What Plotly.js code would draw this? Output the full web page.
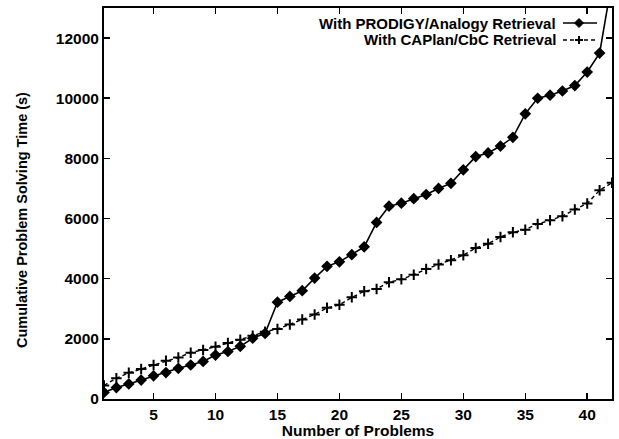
<!DOCTYPE html>
<html>
<head>
<meta charset="utf-8">
<script src="https://cdn.plot.ly/plotly-3.0.1.min.js"></script>
<style>html,body{margin:0;padding:0;background:#fff;}#chart{width:619px;height:439px;}</style>
</head>
<body>
<div id="chart"></div>
<script>
const problems = [1,2,3,4,5,6,7,8,9,10,11,12,13,14,15,16,17,18,19,20,21,22,23,24,25,26,27,28,29,30,31,32,33,34,35,36,37,38,39,40,41,42];
const prodigyTime = [220,380,500,630,770,880,1020,1130,1250,1460,1580,1750,2020,2180,3220,3410,3600,4020,4410,4560,4800,5060,5870,6410,6510,6660,6800,7000,7170,7620,8060,8180,8410,8700,9480,10000,10100,10240,10420,10870,11500,13900];
const caplanTime = [450,690,870,1000,1130,1270,1380,1540,1630,1740,1860,1970,2100,2240,2330,2480,2640,2810,3030,3130,3380,3580,3660,3880,3980,4130,4320,4470,4610,4780,5020,5160,5390,5540,5630,5820,5940,6080,6300,6500,6940,7190];
const seriesNames = ["With PRODIGY/Analogy Retrieval", "With CAPlan/CbC Retrieval"];
const xTicks = [5,10,15,20,25,30,35,40];
const yTicks = [0,2000,4000,6000,8000,10000,12000];
const xTitle = "Number of Problems";
const yTitle = "Cumulative Problem Solving Time (s)";

const fam = "Liberation Sans, Arial, sans-serif";
const font = {family: fam, size: 15.5, color: "#000", weight: 700};
const legendFont = {family: fam, size: 15, color: "#000", weight: 700};
const yTitleFont = {family: fam, size: 14.5, color: "#000", weight: 700};

const traces = [
  {x: problems, y: prodigyTime, name: seriesNames[0], mode: "lines+markers", cliponaxis: true,
   line: {color: "#000", width: 1.6}, marker: {symbol: "diamond", size: 9, color: "#000"}},
  {x: problems, y: caplanTime, name: seriesNames[1], mode: "lines+markers", cliponaxis: true,
   line: {color: "#000", width: 1.4, dash: "4px,3px"}, marker: {symbol: "cross-thin", size: 7.5, line: {color: "#000", width: 2}}}
];

const lx = (579 - 104) / 508;
const ly1 = (399 - 23) / 391;
const ly2 = (399 - 40) / 391;
const tx = (557 - 104) / 508;

const pix = (path, yy, dash, w) => ({type: "path", xref: "paper", yref: "paper", xsizemode: "pixel", ysizemode: "pixel",
  xanchor: lx, yanchor: yy, path: path, line: {color: "#000", width: w, dash: dash || "solid"}, fillcolor: "#000"});

const layout = {
  width: 619, height: 439,
  margin: {l: 104, r: 7, t: 8, b: 40},
  paper_bgcolor: "#fff", plot_bgcolor: "#fff",
  showlegend: false,
  font: font,
  xaxis: {range: [1, 42], tickvals: xTicks, ticktext: xTicks.map(String), ticks: "inside", ticklen: 6, tickwidth: 1.5,
    tickcolor: "#000", mirror: "ticks", showline: true, linecolor: "#000", linewidth: 2, showgrid: false, zeroline: false,
    tickfont: font, title: {text: xTitle, font: font, standoff: 0}},
  yaxis: {range: [0, 13000], tickvals: yTicks, ticktext: yTicks.map(String), ticks: "inside", ticklen: 6, tickwidth: 1.5,
    tickcolor: "#000", mirror: "ticks", showline: true, linecolor: "#000", linewidth: 2, showgrid: false, zeroline: false,
    tickfont: font},
  annotations: [
    {xref: "paper", yref: "paper", x: tx, y: ly1, xanchor: "right", yanchor: "middle", text: seriesNames[0], showarrow: false, font: legendFont, borderpad: 0},
    {xref: "paper", yref: "paper", x: tx, y: ly2, xanchor: "right", yanchor: "middle", text: seriesNames[1], showarrow: false, font: legendFont, borderpad: 0},
    {xref: "paper", yref: "paper", x: (22 - 104) / 508, y: (399 - 220) / 391, xanchor: "center", yanchor: "middle", textangle: -90,
     text: yTitle, showarrow: false, font: yTitleFont, borderpad: 0}
  ],
  shapes: [
    pix("M -16 0 L 18 0", ly1, "solid", 1.6),
    pix("M 0 -4.5 L 4.5 0 L 0 4.5 L -4.5 0 Z", ly1, "solid", 1),
    pix("M -16 0 L 18 0", ly2, "4px,3px", 1.4),
    pix("M -4 0 L 4 0 M 0 -4 L 0 4", ly2, "solid", 2)
  ]
};

Plotly.newPlot("chart", traces, layout, {displayModeBar: false, staticPlot: true});
</script>
</body>
</html>
